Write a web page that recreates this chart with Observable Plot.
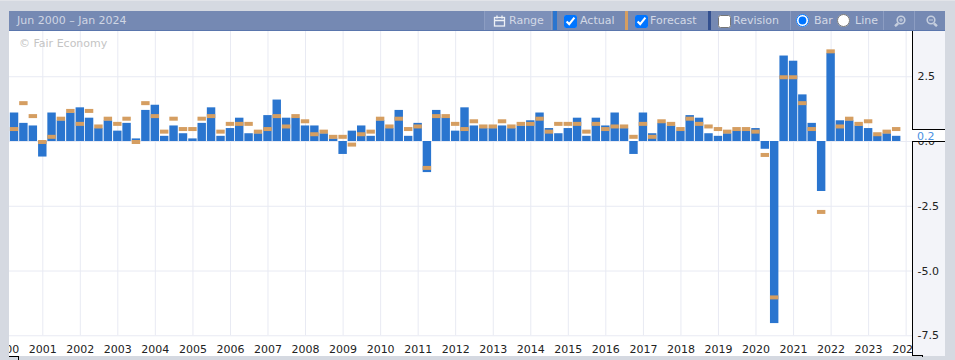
<!DOCTYPE html>
<html>
<head>
<meta charset="utf-8">
<script src="https://cdn.jsdelivr.net/npm/d3@7"></script>
<script src="https://cdn.jsdelivr.net/npm/@observablehq/plot@0.6"></script>
<style>
html,body{margin:0;padding:0;background:#d5d9e1;width:955px;height:360px;overflow:hidden}
body{position:relative;font-family:"DejaVu Sans",sans-serif;font-size:11px}
.abs{position:absolute}
.cell{position:absolute;top:11px;height:19px;background:#7589b3;border-right:1px solid #8c9dc2;box-sizing:border-box}
.lbl{position:absolute;top:14px;line-height:14px;color:#d3d9e6;white-space:nowrap}
input{position:absolute;margin:0}
</style>
</head>
<body>
<div class="abs" style="left:0;top:0;width:955px;height:1px;background:#e2e4e9"></div>
<div class="abs" style="left:9px;top:31px;width:903px;height:325px;background:#fff"></div>
<div class="abs" style="left:912px;top:31px;width:33px;height:325px;background:#f3f4f9"></div>
<div id="chart" class="abs" style="left:0;top:0"></div>
<div class="abs" style="left:912px;top:31px;width:1px;height:325px;background:#000"></div>
<div class="abs" style="left:912px;top:355px;width:10px;height:1px;background:#000"></div>
<div class="abs" style="left:922px;top:355px;width:1px;height:2px;background:#000"></div>
<div class="abs" style="left:9px;top:356px;width:10px;height:1px;background:#000"></div>
<div class="abs" style="left:18px;top:356px;width:1px;height:4px;background:#000"></div>
<div id="last" class="abs" style="left:912px;top:129px;width:33px;height:11px;box-sizing:content-box;background:#fff;border-top:1px solid #000;border-bottom:1px solid #000;color:#4a90e2;font-size:11px;line-height:13px;text-indent:5px"></div>
<div class="abs" style="left:19px;top:37px;color:#c4c4c4;line-height:14px">© Fair Economy</div>

<div class="abs" style="left:9px;top:11px;width:936px;height:20px;background:#7589b3;border-bottom:1px solid #5a76ad;box-sizing:border-box"></div>
<div class="cell" style="left:484px;width:68px;background:#7d90b9;border-left:1px solid #8c9dc2"></div>
<div class="abs" style="left:553px;top:11px;width:4px;height:19px;background:#2a75cf"></div>
<div class="abs" style="left:625px;top:11px;width:3px;height:19px;background:#d59e61"></div>
<div class="abs" style="left:708px;top:11px;width:3px;height:19px;background:#33508f"></div>
<div class="cell" style="left:711px;width:80px"></div>
<div class="cell" style="left:791px;width:93px"></div>
<div class="cell" style="left:884px;width:31px"></div>
<div class="cell" style="left:915px;width:30px;border-right:0"></div>
<div class="lbl" style="left:17px;color:#d0d6e4">Jun 2000 – Jan 2024</div>
<svg class="abs" style="left:493px;top:15px" width="13" height="12" viewBox="0 0 13 12" fill="none" stroke="#eef1f6" stroke-width="1.3"><rect x="1.5" y="2.5" width="10" height="8.5"/><path d="M1.5 5.5h10M4 .5v3M9 .5v3"/></svg>
<div class="lbl" style="left:509px">Range</div>
<input type="checkbox" checked style="left:564px;top:15px">
<div class="lbl" style="left:580px">Actual</div>
<input type="checkbox" checked style="left:635px;top:15px">
<div class="lbl" style="left:650px">Forecast</div>
<input type="checkbox" style="left:718px;top:15px">
<div class="lbl" style="left:733px">Revision</div>
<input type="radio" name="m" checked style="left:796px;top:14px">
<div class="lbl" style="left:814px">Bar</div>
<input type="radio" name="m" style="left:837px;top:14px">
<div class="lbl" style="left:855px">Line</div>
<svg class="abs" style="left:894px;top:15px" width="12" height="12" viewBox="0 0 12 12" fill="none" stroke="#c5cede" stroke-width="1.6"><circle cx="7" cy="5" r="3.8"/><path d="M4 8.5L1 11.2" stroke-width="2.4"/><path d="M5 5h4M7 3v4" stroke-width="1"/></svg>
<svg class="abs" style="left:926px;top:15px" width="12" height="12" viewBox="0 0 12 12" fill="none" stroke="#c5cede" stroke-width="1.6"><circle cx="5" cy="5" r="3.8"/><path d="M8 8.5L11 11.2" stroke-width="2.4"/><path d="M3 5h4" stroke-width="1"/></svg>

<script>
const quarters = [
  "2000-04","2000-07","2000-10",
  "2001-01","2001-04","2001-07","2001-10",
  "2002-01","2002-04","2002-07","2002-10",
  "2003-01","2003-04","2003-07","2003-10",
  "2004-01","2004-04","2004-07","2004-10",
  "2005-01","2005-04","2005-07","2005-10",
  "2006-01","2006-04","2006-07","2006-10",
  "2007-01","2007-04","2007-07","2007-10",
  "2008-01","2008-04","2008-07","2008-10",
  "2009-01","2009-04","2009-07","2009-10",
  "2010-01","2010-04","2010-07","2010-10",
  "2011-01","2011-04","2011-07","2011-10",
  "2012-01","2012-04","2012-07","2012-10",
  "2013-01","2013-04","2013-07","2013-10",
  "2014-01","2014-04","2014-07","2014-10",
  "2015-01","2015-04","2015-07","2015-10",
  "2016-01","2016-04","2016-07","2016-10",
  "2017-01","2017-04","2017-07","2017-10",
  "2018-01","2018-04","2018-07","2018-10",
  "2019-01","2019-04","2019-07","2019-10",
  "2020-01","2020-04","2020-07","2020-10",
  "2021-01","2021-04","2021-07","2021-10",
  "2022-01","2022-04","2022-07","2022-10",
  "2023-01","2023-04","2023-07","2023-10"
];
const actual = [
  1.1,0.7,0.6,
  -0.6,1.1,0.8,1.1,
  1.3,0.9,0.5,0.8,
  0.4,0.7,0.1,1.2,
  1.4,0.2,0.6,0.3,
  0.1,0.7,1.3,0.2,
  0.5,0.9,0.3,0.3,
  1.0,1.6,0.9,0.9,
  0.6,0.6,0.3,0.1,
  -0.5,0.4,0.6,0.2,
  0.8,0.5,1.2,0.2,
  0.7,-1.2,1.2,0.9,
  0.4,1.3,0.6,0.5,
  0.5,0.6,0.5,0.6,
  0.8,1.1,0.5,0.3,
  0.5,0.9,0.2,0.9,
  0.6,1.1,0.5,-0.5,
  1.1,0.3,0.7,0.6,
  0.4,1.0,0.9,0.3,
  0.2,0.3,0.4,0.4,
  0.5,-0.3,-7.03,3.3,
  3.1,1.8,0.7,-1.93,
  3.4,0.8,0.8,0.6,
  0.5,0.2,0.3,0.2
];
const forecast = [
  0.5,1.5,1.0,
  0.0,0.2,0.9,1.2,
  0.7,1.2,0.6,0.9,
  0.7,0.9,0.0,1.5,
  1.0,0.4,0.9,0.5,
  0.5,0.9,1.0,0.4,
  0.7,0.7,0.7,0.4,
  0.5,1.0,0.6,1.0,
  0.8,0.3,0.4,0.2,
  0.2,-0.1,0.3,0.4,
  0.9,0.6,0.9,0.5,
  0.6,-1.0,1.0,1.0,
  0.7,0.5,0.8,0.6,
  0.6,0.8,0.6,0.7,
  0.7,0.9,0.4,0.7,
  0.7,0.7,0.4,0.7,
  0.5,0.6,0.6,0.2,
  0.7,0.2,0.8,0.7,
  0.5,0.9,0.7,0.6,
  0.5,0.4,0.5,0.5,
  0.4,-0.5,-6.0,2.5,
  2.5,1.5,0.5,-2.7,
  3.5,0.6,0.9,0.7,
  0.8,0.3,0.4,0.5
];
const yearTicks = ["2000","2001","2002","2003","2004","2005","2006","2007","2008","2009","2010","2011","2012","2013","2014","2015","2016","2017","2018","2019","2020","2021","2022","2023","2024"];
const valueTicks = [2.5, 0, -2.5, -5, -7.5];

const rows = quarters.map((q, i) => ({
  date: new Date(q + "-01T00:00:00Z"),
  actual: actual[i],
  forecast: forecast[i]
}));
const halfWidthDays = 41;
const x1 = d => d3.utcDay.offset(d.date, -halfWidthDays);
const x2 = d => d3.utcDay.offset(d.date, halfWidthDays);
const yearDates = yearTicks.map(y => new Date(y + "-01-01T00:00:00Z"));

const chart = Plot.plot({
  width: 955,
  height: 360,
  marginLeft: 9,
  marginRight: 43,
  marginTop: 31,
  marginBottom: 4,
  style: {background: "transparent", fontFamily: "'DejaVu Sans', sans-serif", fontSize: "11px", color: "#222"},
  x: {type: "utc", domain: [new Date("2000-02-12T00:00:00Z"), new Date("2024-03-03T00:00:00Z")], axis: null},
  y: {domain: [-8.301, 4.247], label: null},
  marks: [
    Plot.ruleX(yearDates, {x: d => d, y1: -7.5, y2: 4.247, stroke: "#e8eaf3", strokeWidth: 1, clip: "frame"}),
    Plot.ruleY(valueTicks, {y: d => d, stroke: "#e8eaf3", strokeWidth: 1}),
    Plot.rect(rows, {x1, x2, y1: 0, y2: "actual", fill: "#2a75cf"}),
    Plot.rect(rows, {x1, x2, y1: d => d.forecast - 0.077, y2: d => d.forecast + 0.077, dy: 1, fill: "#d59e61"}),
    Plot.text(yearDates, {x: d => d, text: d => String(d.getUTCFullYear()), frameAnchor: "bottom", lineAnchor: "middle", dy: -7, fill: "#222", fontSize: 11, clip: "frame"}),
    Plot.axisY({anchor: "right", ticks: valueTicks, tickSize: 0, tickPadding: 5, tickFormat: d => d.toFixed(1), label: null, fontSize: 11, fill: "#222"})
  ]
});
document.getElementById("chart").appendChild(chart);
document.getElementById("last").textContent = actual[actual.length - 1].toFixed(1);
</script>
</body>
</html>
